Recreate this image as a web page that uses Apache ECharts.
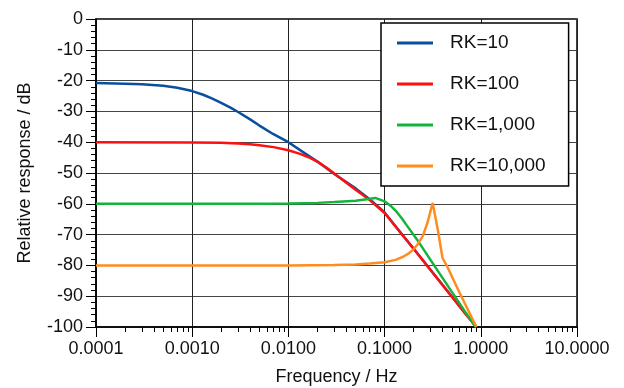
<!DOCTYPE html>
<html><head><meta charset="utf-8">
<script src="https://cdn.jsdelivr.net/npm/echarts@6/dist/echarts.min.js"></script>
<style>html,body{margin:0;padding:0;background:#fff}#c{width:624px;height:388px}</style>
</head><body><div id="c"></div>
<script>
var seriesNames = ['RK=10', 'RK=100', 'RK=1,000', 'RK=10,000'];
var xTickLabels = [0.0001, 0.001, 0.01, 0.1, 1, 10];

var rk10Freq = [0.0001,0.0002,0.0003,0.0005,0.0007,0.001,0.0013,0.0016,0.002,0.0025,0.003,0.004,0.005,0.007,0.01,0.015,0.02,0.03,0.05,0.07,0.1,0.15,0.2,0.3,0.5,0.7,0.9];
var rk10Db   = [-20.8,-21.0,-21.2,-21.7,-22.3,-23.4,-24.6,-25.8,-27.2,-28.8,-30.2,-32.6,-34.6,-37.4,-40.0,-43.7,-46.3,-50.3,-55.0,-58.5,-62.8,-69.7,-74.5,-81.4,-90.1,-95.8,-100];

var rk100Freq = [0.0001,0.001,0.002,0.003,0.004,0.005,0.007,0.01,0.013,0.016,0.02,0.025,0.03,0.04,0.05,0.07,0.1,0.15,0.2,0.3,0.5,0.7,0.9];
var rk100Db   = [-40.0,-40.1,-40.2,-40.4,-40.7,-41.0,-41.6,-42.6,-43.7,-44.8,-46.3,-48.3,-50.2,-53.2,-55.4,-58.8,-63.0,-69.8,-74.6,-81.5,-90.2,-95.9,-100];

var rk1000Freq = [0.0001,0.001,0.005,0.01,0.02,0.03,0.05,0.065,0.08,0.1,0.115,0.13,0.15,0.17,0.215,0.3,0.5,0.7,0.885];
var rk1000Db   = [-60.0,-60.0,-60.0,-59.9,-59.7,-59.4,-59.0,-58.5,-58.1,-59.2,-60.6,-62.2,-64.6,-67.0,-71.4,-78.2,-88.6,-95.4,-100];

var rk10000Freq = [0.0001,0.001,0.01,0.03,0.05,0.07,0.1,0.13,0.156,0.18,0.197,0.22,0.25,0.28,0.316,0.36,0.40,0.45,0.6,0.9];
var rk10000Db   = [-80.0,-80.0,-80.0,-79.9,-79.7,-79.4,-79.0,-78.2,-77.2,-76.0,-75.0,-73.2,-70.4,-66.0,-59.7,-69.0,-77.6,-80.5,-88.8,-100];

// minor log ticks (2..9 within each decade), expressed as decade exponents for a helper tick axis
var minorTickExp = [];
[-4,-3,-2,-1,0].forEach(function(e){ for (var k=2;k<=9;k++) minorTickExp.push(e + Math.log10(k)); });

function pairs(f, v){ return f.map(function(x,i){ return [x, v[i]]; }); }

var colors = ['#0a4f9e', '#ff1010', '#14b43c', '#ff8c1e'];
var FONT = 'Liberation Sans, Arial, sans-serif';

var chart = echarts.init(document.getElementById('c'), null, {renderer:'canvas'});
chart.setOption({
  animation: false,
  backgroundColor: '#fff',
  color: colors,
  grid: {left: 96, right: 47, top: 19, bottom: 61, show: true, borderColor: '#000', borderWidth: 1.5, backgroundColor: 'transparent',
         containLabel: false, outerBoundsMode: 'none'},
  legend: {
    orient: 'vertical', left: 381, top: 23,
    data: seriesNames,
    backgroundColor: '#fff', borderColor: '#000', borderWidth: 1.5,
    padding: [10, 23, 10, 16],
    itemWidth: 36, itemHeight: 3, itemGap: 21, icon: 'rect',
    textStyle: {fontFamily: FONT, fontSize: 19, color: '#111', lineHeight: 20, padding: [0, 0, 0, 12]}
  },
  xAxis: [{
    type: 'log', logBase: 10, min: 0.0001, max: 10,
    name: 'Frequency / Hz', nameLocation: 'middle', nameGap: 41,
    nameTextStyle: {fontFamily: FONT, fontSize: 18, color: '#111'},
    axisLine: {show: true, onZero: false, lineStyle: {color: '#000', width: 1.5}},
    axisTick: {show: true, inside: false, length: 10, lineStyle: {color: '#000', width: 1}},
    axisLabel: {fontFamily: FONT, fontSize: 18, color: '#111', margin: 13,
      formatter: function(v){ return Number(v).toFixed(4); }},
    splitLine: {show: true, lineStyle: {color: '#222', width: 1}}
  }, {
    type: 'value', min: -4, max: 1, gridIndex: 0, position: 'bottom',
    axisLine: {show: false, onZero: false},
    axisLabel: {show: false},
    splitLine: {show: false},
    axisTick: {show: true, inside: false, length: 5, customValues: minorTickExp, lineStyle: {color: '#000', width: 1}}
  }],
  yAxis: {
    type: 'value', min: -100, max: 0, interval: 10,
    name: 'Relative response / dB', nameLocation: 'middle', nameGap: 62,
    nameTextStyle: {fontFamily: FONT, fontSize: 18, color: '#111'},
    axisLine: {show: true, onZero: false, lineStyle: {color: '#000', width: 1.5}},
    axisTick: {show: true, inside: false, length: 10, lineStyle: {color: '#000', width: 1}},
    minorTick: {show: true, splitNumber: 5, length: 5, lineStyle: {color: '#000', width: 1}},
    axisLabel: {fontFamily: FONT, fontSize: 18, color: '#111', margin: 13},
    splitLine: {show: true, lineStyle: {color: '#444', width: 1}}
  },
  series: [
    {name: seriesNames[0], type: 'line', data: pairs(rk10Freq, rk10Db), showSymbol: false, lineStyle: {width: 2.5}, z: 4},
    {name: seriesNames[1], type: 'line', data: pairs(rk100Freq, rk100Db), showSymbol: false, lineStyle: {width: 2.5}, z: 5},
    {name: seriesNames[2], type: 'line', data: pairs(rk1000Freq, rk1000Db), showSymbol: false, lineStyle: {width: 2.5}, z: 6},
    {name: seriesNames[3], type: 'line', data: pairs(rk10000Freq, rk10000Db), showSymbol: false, lineStyle: {width: 2.5}, z: 7}
  ]
});
</script></body></html>
